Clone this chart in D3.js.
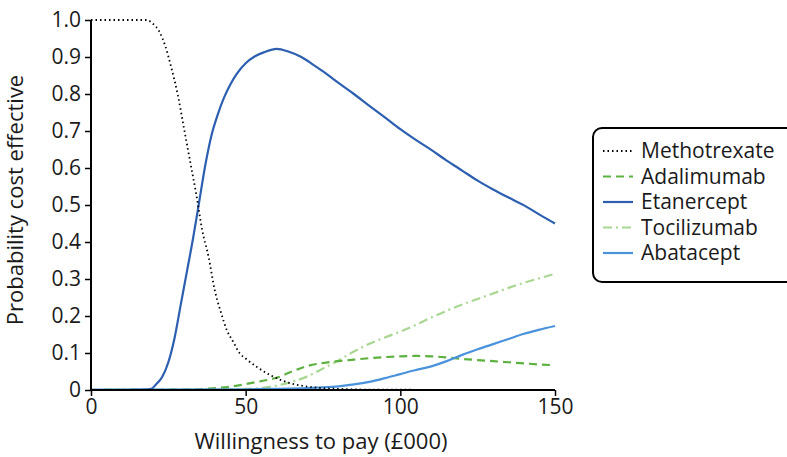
<!DOCTYPE html>
<html>
<head>
<meta charset="utf-8">
<script src="https://cdn.jsdelivr.net/npm/d3@7"></script>
<style>
  body { margin: 0; background: #fff; }
  text { font-family: 'Open Sans', 'Noto Sans', sans-serif; fill: #1a1a1a; }
</style>
</head>
<body>
<div class="chart"></div>
<script>
// willingness to pay (£000) and probability cost effective
var mtxX = [0, 10, 18, 20, 22, 24, 26, 28, 30, 32, 34, 36, 38, 40, 42, 44, 46, 48, 50, 54, 58, 62, 66, 70, 75, 80, 90, 150];
var mtxY = [1, 1, 1, 0.99, 0.97, 0.93, 0.87, 0.80, 0.71, 0.62, 0.53, 0.43, 0.36, 0.27, 0.21, 0.16, 0.13, 0.10, 0.085, 0.06, 0.04, 0.025, 0.015, 0.009, 0.005, 0.003, 0.001, 0];

var etaX = [0, 10, 18, 19.5, 21, 23, 25, 27, 29, 31, 33, 35, 37, 39, 41, 43, 45, 47, 50, 53, 56, 60, 64, 68, 72, 76, 80, 85, 90, 95, 100, 105, 110, 115, 120, 125, 130, 135, 140, 145, 150];
var etaY = [0, 0, 0.001, 0.003, 0.015, 0.035, 0.075, 0.14, 0.23, 0.32, 0.41, 0.51, 0.61, 0.69, 0.745, 0.79, 0.825, 0.853, 0.883, 0.902, 0.913, 0.922, 0.914, 0.9, 0.878, 0.855, 0.83, 0.80, 0.768, 0.737, 0.705, 0.676, 0.649, 0.62, 0.593, 0.566, 0.542, 0.52, 0.499, 0.474, 0.45];

var adaX = [0, 30, 35, 40, 45, 50, 55, 60, 65, 70, 75, 80, 85, 90, 95, 100, 105, 110, 115, 120, 125, 130, 135, 140, 145, 150];
var adaY = [0, 0.001, 0.002, 0.005, 0.009, 0.016, 0.024, 0.033, 0.05, 0.065, 0.073, 0.078, 0.082, 0.086, 0.089, 0.091, 0.092, 0.091, 0.088, 0.084, 0.081, 0.078, 0.075, 0.072, 0.069, 0.067];

var tocX = [0, 40, 50, 55, 60, 65, 70, 75, 80, 85, 90, 95, 100, 105, 110, 115, 120, 125, 130, 135, 140, 145, 150];
var tocY = [0, 0.001, 0.003, 0.005, 0.012, 0.022, 0.037, 0.058, 0.08, 0.104, 0.125, 0.142, 0.158, 0.176, 0.196, 0.214, 0.231, 0.246, 0.261, 0.276, 0.29, 0.302, 0.314];

var abaX = [0, 50, 60, 70, 75, 80, 85, 90, 95, 100, 105, 110, 115, 120, 125, 130, 135, 140, 145, 150];
var abaY = [0.001, 0.002, 0.003, 0.005, 0.007, 0.01, 0.015, 0.022, 0.032, 0.043, 0.054, 0.064, 0.078, 0.095, 0.11, 0.124, 0.138, 0.152, 0.163, 0.173];

var xTicks = [0, 50, 100, 150];
var yTicks = [0, 0.1, 0.2, 0.3, 0.4, 0.5, 0.6, 0.7, 0.8, 0.9, 1.0];

var series = [
  { name: "Methotrexate", xs: mtxX, ys: mtxY, color: "#000000", dash: "1.5,3", width: 1.8 },
  { name: "Adalimumab", xs: adaX, ys: adaY, color: "#5cb13f", dash: "8,5", width: 2.2 },
  { name: "Etanercept", xs: etaX, ys: etaY, color: "#2d5fb0", dash: null, width: 2.2 },
  { name: "Tocilizumab", xs: tocX, ys: tocY, color: "#a9d792", dash: "9,4,2,4", width: 2.2 },
  { name: "Abatacept", xs: abaX, ys: abaY, color: "#4a93dc", dash: null, width: 2.2 }
];
// draw order: lower curves first so black dotted stays visible
var drawOrder = [3, 1, 4, 2, 0];

var margin = {top: 20, right: 232, bottom: 67, left: 91},
    width = 787 - margin.left - margin.right,
    height = 457 - margin.top - margin.bottom;

var svg = d3.select(".chart")
  .append("svg")
  .attr("width", 787)
  .attr("height", 457)
  .append("g")
  .attr("transform", "translate(" + margin.left + "," + margin.top + ")");

var x = d3.scaleLinear().domain([0, 150]).range([0, width]);
var y = d3.scaleLinear().domain([0, 1]).range([height, 0]);

var line = d3.line()
  .x(function(d) { return x(d[0]); })
  .y(function(d) { return y(d[1]); })
  .curve(d3.curveMonotoneX);

drawOrder.forEach(function(i) {
  var s = series[i];
  var pts = s.xs.map(function(v, j) { return [v, s.ys[j]]; });
  svg.append("path")
    .datum(pts)
    .attr("fill", "none")
    .attr("stroke", s.color)
    .attr("stroke-width", s.width)
    .attr("stroke-dasharray", s.dash)
    .attr("d", line);
});

// axes
var xAxis = svg.append("g")
  .attr("transform", "translate(0," + height + ")")
  .call(d3.axisBottom(x).tickValues(xTicks).tickSize(6).tickPadding(3).tickFormat(d3.format("d")));

var yAxis = svg.append("g")
  .call(d3.axisLeft(y).tickValues(yTicks).tickSize(6).tickPadding(4)
    .tickFormat(function(d) { return d === 0 ? "0" : d3.format(".1f")(d); }));

[xAxis, yAxis].forEach(function(a) {
  a.select(".domain").attr("stroke", "#000").attr("stroke-width", 2);
  a.selectAll(".tick line").attr("stroke", "#000").attr("stroke-width", 1.5);
  a.selectAll(".tick text").style("font-size", "21px").attr("fill", "#1a1a1a");
});
xAxis.select(".domain").attr("d", "M0,0H" + width);
yAxis.select(".domain").attr("d", "M0," + height + "V0");

// axis titles
svg.append("text")
  .attr("x", width / 2 - 2)
  .attr("y", height + 59)
  .attr("text-anchor", "middle")
  .style("font-size", "22px")
  .text("Willingness to pay (£000)");

svg.append("text")
  .attr("transform", "rotate(-90)")
  .attr("x", -height / 2 + 5)
  .attr("y", -68)
  .attr("text-anchor", "middle")
  .style("font-size", "22px")
  .text("Probability cost effective");

// legend
var legend = svg.append("g")
  .attr("transform", "translate(" + (593 - margin.left) + "," + (128 - margin.top) + ")");

legend.append("rect")
  .attr("x", 0)
  .attr("y", 0)
  .attr("width", 215)
  .attr("height", 154)
  .attr("rx", 9)
  .attr("fill", "#fff")
  .attr("stroke", "#000")
  .attr("stroke-width", 2);

series.forEach(function(s, i) {
  var ly = 23 + i * 25.5;
  legend.append("line")
    .attr("x1", 10).attr("x2", 40)
    .attr("y1", ly).attr("y2", ly)
    .attr("stroke", s.color)
    .attr("stroke-width", s.width)
    .attr("stroke-dasharray", s.dash);
  legend.append("text")
    .attr("x", 48)
    .attr("y", ly)
    .attr("dy", "0.35em")
    .style("font-size", "21px")
    .text(s.name);
});
</script>
</body>
</html>
